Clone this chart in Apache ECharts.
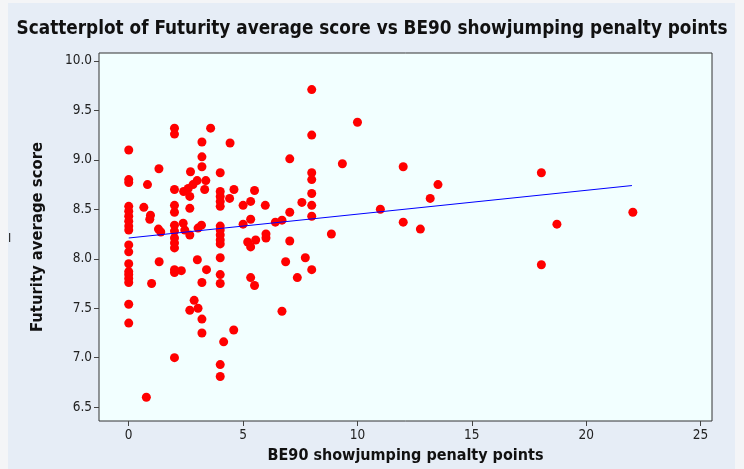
<!DOCTYPE html>
<html>
<head>
<meta charset="utf-8">
<title>Scatterplot of Futurity average score vs BE90 showjumping penalty points</title>
<script src="https://cdn.jsdelivr.net/npm/echarts@6/dist/echarts.min.js"></script>
<style>
  html, body { margin: 0; padding: 0; background: #f4f5f7; }
  #chart { width: 744px; height: 469px; }
</style>
</head>
<body>
<div id="chart"></div>
<script>
// showjumping penalty points (x) and futurity average score (y)
var penalty = [
  0, 0, 0, 0, 0, 0, 0, 0, 0, 0, 0, 0, 0, 0, 0, 0, 0, 0,
  0.77, 0.82, 0.66, 0.95, 0.92, 1.0, 1.3, 1.4, 1.32, 1.33,
  2, 2, 2, 2, 2, 2, 2, 2, 2, 2, 2, 2, 2,
  2.3, 2.4, 2.6, 2.81, 2.99, 2.67, 3.37, 3.32, 2.7, 2.67, 2.38, 2.45, 2.67, 3.03, 3.18,
  3.2, 3.2, 3.2, 3.58, 3.0, 3.4, 3.2, 2.86, 2.67, 3.03, 3.2, 3.2,
  4, 4, 4, 4, 4, 4, 4, 4, 4, 4, 4, 4, 4, 4, 4,
  4.43, 4.6, 4.41, 4.59, 4.15,
  5.0, 5.33, 5.5, 5.97, 5.33, 5.0, 5.2, 5.33, 5.55, 5.33, 5.5, 6.0, 6.0,
  6.41, 6.7, 6.86, 6.7, 7.04, 7.04, 7.04, 7.37, 7.57, 7.72,
  8, 8, 8, 8, 8, 8, 8, 8,
  8.86, 9.34, 10.0, 11.0, 12.0, 12.0, 12.75, 13.18, 13.52, 18.04, 18.04, 18.72, 22.04
];
var score = [
  9.10, 8.80, 8.77, 8.53, 8.48, 8.43, 8.38, 8.33, 8.29, 8.14, 8.07, 7.95, 7.87, 7.84, 7.80, 7.76, 7.54, 7.35,
  6.60, 8.75, 8.52, 8.44, 8.40, 7.75, 8.30, 8.27, 8.91, 7.97,
  9.32, 9.26, 8.70, 8.54, 8.47, 8.34, 8.28, 8.21, 8.16, 8.11, 7.89, 7.86, 7.00,
  7.88, 8.68, 8.71, 8.75, 8.79, 8.63, 8.79, 8.70, 8.88, 8.51, 8.36, 8.29, 8.24, 8.31, 8.34,
  9.18, 9.03, 8.93, 9.32, 7.99, 7.89, 7.76, 7.58, 7.48, 7.50, 7.39, 7.25,
  8.87, 8.68, 8.63, 8.58, 8.53, 8.33, 8.29, 8.24, 8.19, 8.15, 8.01, 7.84, 7.75, 6.93, 6.81,
  9.17, 8.70, 8.61, 7.28, 7.16,
  8.54, 8.58, 8.69, 8.54, 8.40, 8.35, 8.17, 8.12, 8.19, 7.81, 7.73, 8.25, 8.21,
  8.37, 8.39, 7.97, 7.47, 9.01, 8.47, 8.18, 7.81, 8.57, 8.01,
  9.71, 9.25, 8.87, 8.80, 8.66, 8.54, 8.43, 7.89,
  8.25, 8.96, 9.38, 8.50, 8.93, 8.37, 8.30, 8.61, 8.75, 8.87, 7.94, 8.35, 8.47
];
// fitted line end points as drawn
var fitX = [0, 22];
var fitY = [8.21, 8.74];
var xTicks = [0, 5, 10, 15, 20, 25];
var yTicks = [6.5, 7.0, 7.5, 8.0, 8.5, 9.0, 9.5, 10.0];

var points = penalty.map(function (p, i) { return [p, score[i]]; });
var fit = fitX.map(function (p, i) { return [p, fitY[i]]; });

var font = 'Tahoma, "DejaVu Sans Condensed", "DejaVu Sans", sans-serif';
var chart = echarts.init(document.getElementById('chart'));

var option = {
  backgroundColor: '#f4f5f7',
  animation: false,
  graphic: [
    { type: 'rect', z: -10, shape: { x: 8, y: 3, width: 727, height: 466 }, style: { fill: '#e6edf6' } },
    { type: 'rect', z: 5, shape: { x: 9, y: 233, width: 1.2, height: 9 }, style: { fill: '#333' } }
  ],
  title: {
    text: 'Scatterplot of Futurity average score vs BE90 showjumping penalty points',
    left: 'center',
    top: 15,
    textStyle: { fontFamily: font, fontWeight: 'bold', fontSize: 18.8, color: '#111' }
  },
  grid: {
    left: 99, right: 32, top: 53, bottom: 44,
    show: true,
    backgroundColor: '#f2ffff',
    borderColor: '#333',
    borderWidth: 1
  },
  xAxis: {
    type: 'value',
    min: -1.3,
    max: 25.5,
    name: 'BE90 showjumping penalty points',
    nameLocation: 'middle',
    nameGap: 27,
    nameTextStyle: { fontFamily: font, fontWeight: 'bold', fontSize: 16, color: '#111' },
    axisLine: { show: false, onZero: false },
    splitLine: { show: false },
    axisTick: { show: true, customValues: xTicks, length: 5, lineStyle: { color: '#444' } },
    axisLabel: { customValues: xTicks, margin: 7, fontFamily: font, fontSize: 13.5, color: '#222' }
  },
  yAxis: {
    type: 'value',
    min: 6.36,
    max: 10.08,
    name: 'Futurity average score',
    nameLocation: 'middle',
    nameGap: 53,
    nameTextStyle: { fontFamily: font, fontWeight: 'bold', fontSize: 16.5, color: '#111' },
    axisLine: { show: false, onZero: false },
    splitLine: { show: false },
    axisTick: { show: true, customValues: yTicks, length: 5, lineStyle: { color: '#444' } },
    axisLabel: {
      customValues: yTicks, margin: 7, fontFamily: font, fontSize: 13.5, color: '#222',
      formatter: function (v) { return v.toFixed(1); }
    }
  },
  series: [
    {
      type: 'line',
      data: fit,
      symbol: 'none',
      lineStyle: { color: '#0000ff', width: 1 },
      z: 3
    },
    {
      type: 'scatter',
      data: points,
      symbol: 'circle',
      symbolSize: 9,
      itemStyle: { color: '#ff0000', opacity: 1 },
      z: 2
    }
  ]
};

chart.setOption(option);
</script>
</body>
</html>
